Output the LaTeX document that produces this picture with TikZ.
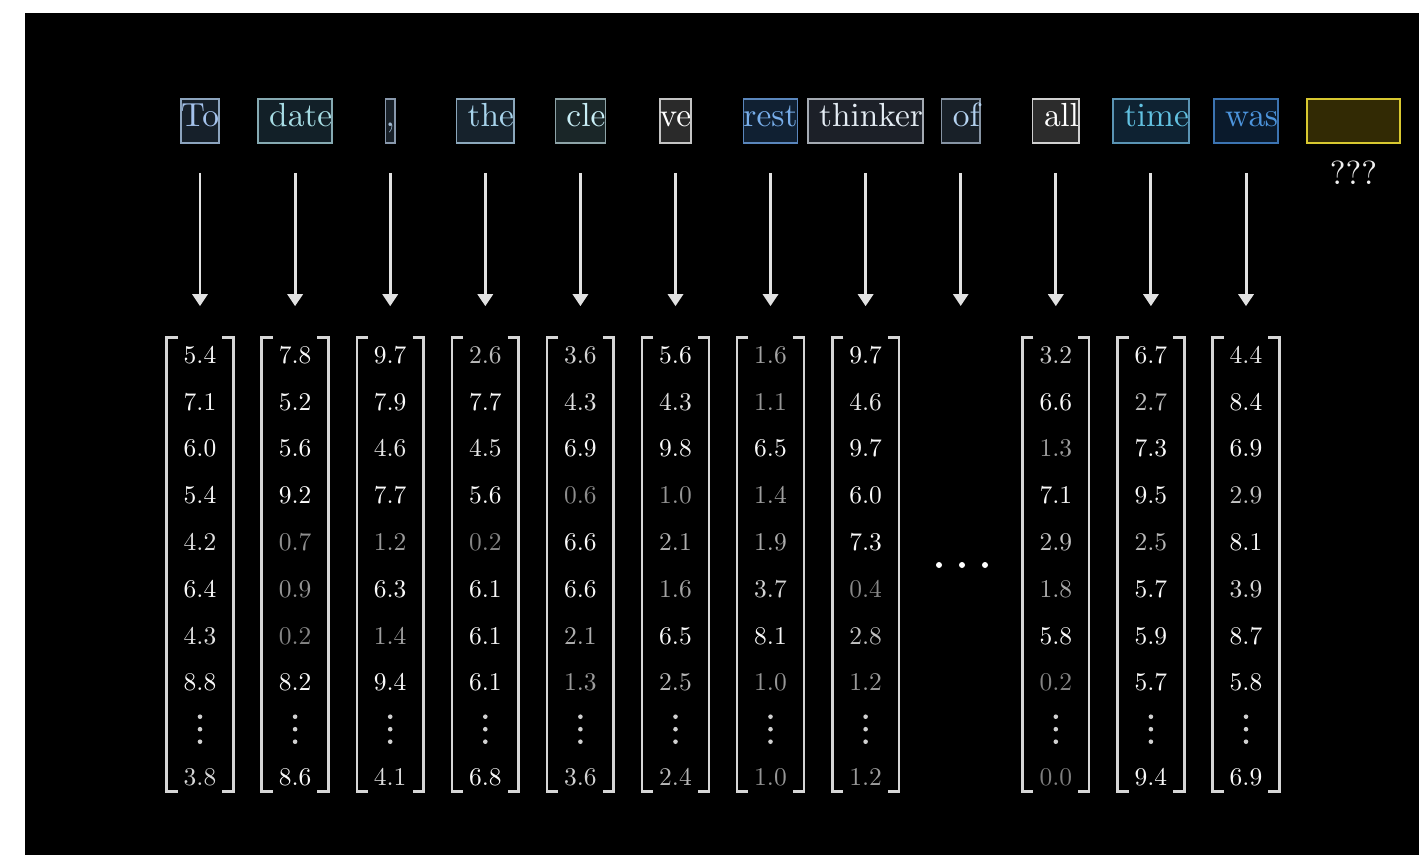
\documentclass[tikz,border=0pt]{standalone}
\usetikzlibrary{positioning,arrows.meta}

\definecolor{arrowgray}{HTML}{E2E2E2}
\definecolor{brk}{HTML}{D6D6D6}
\definecolor{qmark}{HTML}{F0F0F0}
\font\numfont=cmr10 at 14.5pt
\font\wordfont=cmr10 at 19pt

\begin{document}
\begin{tikzpicture}[
    x=0.02cm, y=-0.02cm,
    word/.style={draw, line width=0.9pt, font=\wordfont, inner xsep=0pt, inner ysep=0pt, minimum height=0.88cm, text height=13.3pt, text depth=7.6pt},
    vec/.style={minimum width=1.32cm, minimum height=9.08cm, inner sep=0pt},
    entry/.style={font=\numfont, inner sep=0pt},
    brk/.style={draw=brk, line width=1.5pt},
    feed/.style={draw=arrowgray, line width=1.7pt, -{Triangle[width=0.3cm,length=0.24cm]}, shorten <=0.58cm, shorten >=0.62cm}
  ]
  % screen
  \fill[white] (0,0) rectangle (1419,855);
  \fill[black] (25,13) rectangle (1419,855);

  % tokens
  \node[word, draw={rgb,255:red,140;green,164;blue,190}, fill={rgb,255:red,22;green,32;blue,42}, text={rgb,255:red,164;green,194;blue,236}] (w1) at (200,121) {To};
  \node[word, draw={rgb,255:red,134;green,170;blue,178}, fill={rgb,255:red,18;green,32;blue,40}, text={rgb,255:red,166;green,220;blue,228}] (w2) at (295.1,121) {\ date};
  \node[word, draw={rgb,255:red,136;green,152;blue,172}, fill={rgb,255:red,24;green,32;blue,40}, text={rgb,255:red,160;green,184;blue,208}] (w3) at (390.2,121) {,};
  \node[word, draw={rgb,255:red,140;green,168;blue,188}, fill={rgb,255:red,22;green,34;blue,44}, text={rgb,255:red,168;green,212;blue,236}] (w4) at (485.3,121) {\ the};
  \node[word, draw={rgb,255:red,142;green,164;blue,168}, fill={rgb,255:red,26;green,38;blue,40}, text={rgb,255:red,200;green,238;blue,246}] (w5) at (580.4,121) {\ cle};
  \node[word, draw={rgb,255:red,196;green,196;blue,196}, fill={rgb,255:red,42;green,42;blue,42}, text=white] (w6) at (675.5,121) {ve};
  \node[word, draw={rgb,255:red,90;green,134;blue,188}, fill={rgb,255:red,16;green,32;blue,50}, text={rgb,255:red,120;green,174;blue,234}] (w7) at (770.5,121) {rest};
  \node[word, draw={rgb,255:red,164;green,170;blue,178}, fill={rgb,255:red,28;green,32;blue,40}, text={rgb,255:red,228;green,236;blue,244}] (w8) at (865.6,121) {\ thinker};
  \node[word, draw={rgb,255:red,134;green,148;blue,164}, fill={rgb,255:red,24;green,32;blue,40}, text={rgb,255:red,180;green,210;blue,240}] (w9) at (960.7,121) {\ of};
  \node[word, draw={rgb,255:red,208;green,208;blue,208}, fill={rgb,255:red,44;green,44;blue,44}, text=white] (w10) at (1055.8,121) {\ all};
  \node[word, draw={rgb,255:red,90;green,148;blue,180}, fill={rgb,255:red,14;green,34;blue,50}, text={rgb,255:red,98;green,194;blue,226}] (w11) at (1150.9,121) {\ time};
  \node[word, draw={rgb,255:red,60;green,116;blue,178}, fill={rgb,255:red,10;green,26;blue,44}, text={rgb,255:red,76;green,148;blue,220}] (w12) at (1246,121) {\ was};
  \node[word, line width=1.2pt, minimum width=1.86cm, draw={rgb,255:red,216;green,200;blue,48}, fill={rgb,255:red,50;green,42;blue,4}] (next) at (1353.5,121) {};
  \node[font=\wordfont, text=qmark, inner sep=0pt, below=0.33cm of next] (guess) {???};

  % embedding vectors
  \foreach \n/\x/\vals/\last in {
      1/200/{5.4,7.1,6.0,5.4,4.2,6.4,4.3,8.8}/3.8,
      2/295.1/{7.8,5.2,5.6,9.2,0.7,0.9,0.2,8.2}/8.6,
      3/390.2/{9.7,7.9,4.6,7.7,1.2,6.3,1.4,9.4}/4.1,
      4/485.3/{2.6,7.7,4.5,5.6,0.2,6.1,6.1,6.1}/6.8,
      5/580.4/{3.6,4.3,6.9,0.6,6.6,6.6,2.1,1.3}/3.6,
      6/675.5/{5.6,4.3,9.8,1.0,2.1,1.6,6.5,2.5}/2.4,
      7/770.5/{1.6,1.1,6.5,1.4,1.9,3.7,8.1,1.0}/1.0,
      8/865.6/{9.7,4.6,9.7,6.0,7.3,0.4,2.8,1.2}/1.2,
      10/1055.8/{3.2,6.6,1.3,7.1,2.9,1.8,5.8,0.2}/0.0,
      11/1150.9/{6.7,2.7,7.3,9.5,2.5,5.7,5.9,5.7}/9.4,
      12/1246/{4.4,8.4,6.9,2.9,8.1,3.9,8.7,5.8}/6.9} {
    \node[vec] (v\n) at (\x,564.5) {};
    \draw[brk] ([xshift=0.22cm]v\n.north west) -- (v\n.north west) -- (v\n.south west) -- ++(0.22cm,0);
    \draw[brk] ([xshift=-0.22cm]v\n.north east) -- (v\n.north east) -- (v\n.south east) -- ++(-0.22cm,0);
    \foreach \v [count=\k] in \vals {
      \pgfmathsetmacro\lum{min(98,50+9*\v)}
      \node[entry, text=white!\lum!black] (v\n-\k) at (\x,{355+46.8*(\k-1)}) {\v};
    }
    \foreach \d in {716.7,729.2,741.7}
      \fill[white!82!black] (\x,\d) circle[radius=0.046cm];
    \pgfmathsetmacro\lum{min(98,50+9*\last)}
    \node[entry, text=white!\lum!black] (v\n-end) at (\x,777) {\last};
  }

  % skipped column
  \coordinate (t9) at (960.7,337);
  \foreach \d in {939,962,985}
    \fill[white] (\d,565) circle[radius=0.06cm];

  % arrows
  \foreach \n in {1,...,8,10,11,12}
    \draw[feed] (w\n) -- (v\n);
  \draw[feed] (w9) -- (t9);
\end{tikzpicture}
\end{document}
